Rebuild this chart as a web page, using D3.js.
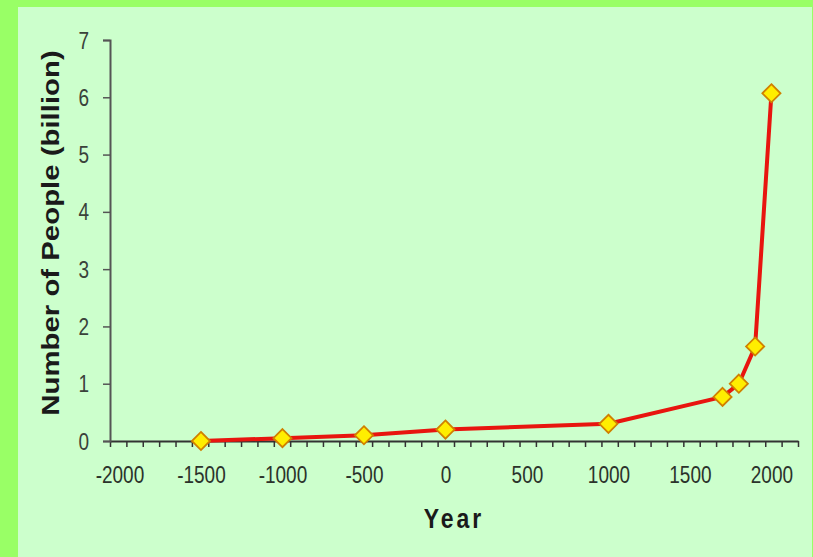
<!DOCTYPE html>
<html>
<head>
<meta charset="utf-8">
<script src="https://cdn.jsdelivr.net/npm/d3@7"></script>
<style>
	body { margin: 0; padding: 0; background: #99ff66; }
	text { font-family: "Liberation Sans", Arial, sans-serif; }
</style>
</head>
<body>
<div class="chart"></div>
<script>

// world population
var years = [-1500, -1000, -500, 0, 1000, 1700, 1800, 1900, 2000];
var people = [0.0, 0.05, 0.1, 0.2, 0.3, 0.77, 1.0, 1.65, 6.07];

var xLabels = [-2000, -1500, -1000, -500, 0, 500, 1000, 1500, 2000];
var yLabels = [0, 1, 2, 3, 4, 5, 6, 7];

var width = 813, height = 557;

var svg = d3.select(".chart")
		.append("svg")
		.attr("width", width)
		.attr("height", height);

// green frame + pale panel
svg.append("rect")
		.attr("width", width)
		.attr("height", height)
		.attr("fill", "#99ff66");
svg.append("rect")
		.attr("x", 18)
		.attr("y", 7)
		.attr("width", 794)
		.attr("height", 550)
		.attr("fill", "#ccffcc");

var x = d3.scaleLinear()
		.domain([-2058, 2163])
		.range([110, 798]);

var y = d3.scaleLinear()
		.domain([0, 7])
		.range([441, 40]);

// minor ticks along the bottom (about every 100 years)
var minor = d3.range(0, 43).map(function(i) {
	return x.domain()[0] + i * (x.domain()[1] - x.domain()[0]) / 42;
});

var xAxis = svg.append("g")
		.attr("transform", "translate(0," + y(0) + ")")
		.call(d3.axisBottom(x).tickValues(minor).tickSize(6).tickSizeOuter(0).tickFormat(""));
xAxis.select(".domain").attr("stroke", "#333").attr("stroke-width", 2);
xAxis.selectAll(".tick line").attr("stroke", "#333").attr("stroke-width", 1.5);

var xText = svg.append("g")
		.attr("transform", "translate(0," + y(0) + ")")
		.call(d3.axisBottom(x).tickValues(xLabels).tickSize(0)
			.tickFormat(function(d) { return d < 0 ? "-" + Math.abs(d) : d; }));
xText.select(".domain").remove();
xText.selectAll("text")
		.attr("y", 0)
		.attr("dy", 0)
		.attr("transform", "translate(0,42) scale(1,1.22)")
		.style("font-size", "19px")
		.attr("fill", "#2b332b");

var yAxis = svg.append("g")
		.attr("transform", "translate(" + x.range()[0] + ",0)")
		.call(d3.axisLeft(y).tickValues(yLabels).tickFormat(d3.format("d")).tickSize(7).tickPadding(14));
yAxis.select(".domain").attr("stroke", "#555").attr("stroke-width", 2);
yAxis.selectAll(".tick line").attr("stroke", "#555").attr("stroke-width", 1.5);
yAxis.selectAll("text")
		.attr("dy", 0)
		.attr("transform", "translate(0,8) scale(1,1.22)")
		.style("font-size", "19px")
		.attr("fill", "#3a423a");

var points = years.map(function(d, i) { return {year: d, value: people[i]}; });

var line = d3.line()
		.x(function(d) { return x(d.year); })
		.y(function(d) { return y(d.value); });

svg.append("path")
		.datum(points)
		.attr("d", line)
		.attr("fill", "none")
		.attr("stroke", "#e8150f")
		.attr("stroke-width", 4)
		.attr("stroke-linejoin", "round");

svg.selectAll(".dot")
		.data(points)
		.enter()
		.append("path")
		.attr("class", "dot")
		.attr("d", d3.symbol().type(d3.symbolDiamond2).size(210))
		.attr("transform", function(d) {
			return "translate(" + x(d.year) + "," + y(d.value) + ")";
		})
		.attr("fill", "#ffee00")
		.attr("stroke", "#d08000")
		.attr("stroke-width", 1.8);

// axis titles
svg.append("text")
		.attr("transform", "translate(59,233) rotate(-90) scale(1.25,1)")
		.style("text-anchor", "middle")
		.style("font-size", "23.5px")
		.style("font-weight", "bold")
		.attr("fill", "#1a1a1a")
		.text("Number of People (billion)");

svg.append("text")
		.attr("transform", "translate(454,528) scale(1,1.22)")
		.style("text-anchor", "middle")
		.style("font-size", "23px")
		.style("font-weight", "bold")
		.style("letter-spacing", "3px")
		.attr("fill", "#1a1a1a")
		.text("Year");

</script>
</body>
</html>
